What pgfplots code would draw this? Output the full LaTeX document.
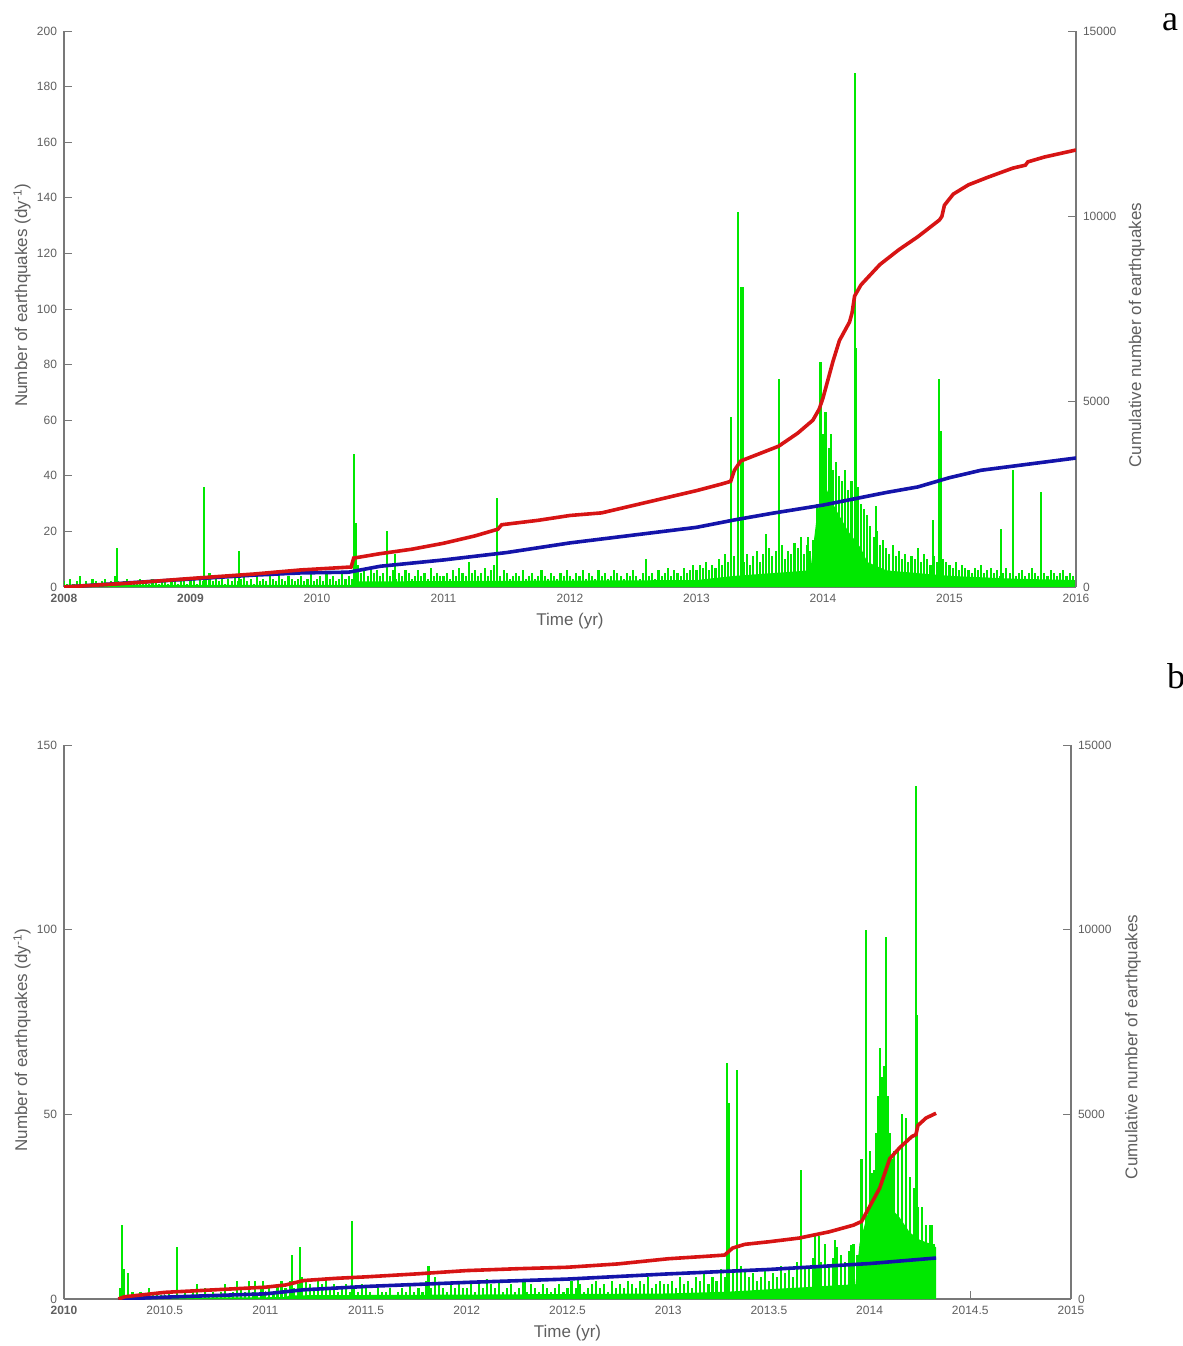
\documentclass[border=0pt]{standalone}
\usepackage{fontspec}
\setmainfont{Liberation Sans}
\newfontfamily\seriffont{Liberation Serif}
\usepackage{pgfplots}
\pgfplotsset{compat=1.18}
\definecolor{txt}{RGB}{95,95,95}
\definecolor{axgray}{RGB}{120,120,120}
\definecolor{eqgreen}{RGB}{0,232,0}
\definecolor{eqred}{RGB}{215,20,20}
\definecolor{eqblue}{RGB}{20,20,170}
\pgfplotsset{
  base/.style={scale only axis,
    axis line style={axgray, line width=0.7pt},
    tick style={axgray, line width=0.5pt},
    major tick length=4pt, tick align=inside,
    every tick label/.append style={font=\fontsize{6}{7}\selectfont, text=txt},
    label style={font=\fontsize{8.5}{9}\selectfont, text=txt},
    /pgf/number format/assume math mode=true,
    scaled y ticks=false},
  comb/.style={ycomb, eqgreen, line width=1.05pt},
}
\begin{document}
\begin{tikzpicture}
\useasboundingbox (0,0) rectangle (591.5pt,-673pt);
% ---------------- panel a ----------------
\begin{axis}[base, at={(32pt,-293.5pt)}, anchor=south west, width=506pt, height=278pt,
  xmin=2008, xmax=2016, ymin=0, ymax=200,
  axis x line*=bottom, axis y line*=left,
  xtick={2008,2009,2010,2011,2012,2013,2014,2015,2016},
  xticklabels={\textbf{2008},\textbf{2009},2010,2011,2012,2013,2014,2015,2016},
  ytick={0,20,40,60,80,100,120,140,160,180,200},
  xlabel={Time (yr)}, ylabel={Number of earthquakes (dy\textsuperscript{-1})},
  xlabel style={at={(axis description cs:0.5,-0.061)}, anchor=center},
  ylabel style={at={(axis description cs:-0.0415,0.525)}, anchor=center}]
\addplot[draw=none, fill=eqgreen] coordinates {(2008,0)(2008,0.8)(2010.27,0.8)(2010.3,2)(2013,2.5)(2013.3,4)(2013.9,6)(2013.95,25)(2014.0,38)(2014.05,33)(2014.1,28)(2014.15,24)(2014.2,20)(2014.3,14)(2014.35,9)(2014.5,6)(2015,4)(2015.5,3)(2016,2.5)(2016,0)};
\addplot[comb] coordinates {
(2008.000,2)(2008.025,1)(2008.050,3)(2008.075,1)(2008.100,2)(2008.125,4)(2008.150,1)(2008.175,2)(2008.200,1)(2008.225,3)(2008.250,2)(2008.275,1)(2008.300,2)(2008.325,3)(2008.350,1)(2008.375,2)(2008.400,4)(2008.425,2)(2008.450,1)(2008.475,2)(2008.500,3)(2008.525,1)(2008.550,2)(2008.575,1)(2008.600,3)(2008.625,2)(2008.650,2)(2008.675,1)(2008.700,3)(2008.725,2)(2008.750,1)(2008.775,2)(2008.800,3)(2008.825,1)(2008.850,2)(2008.875,2)(2008.900,1)(2008.925,3)(2008.950,2)(2008.975,1)
(2009.000,2)(2009.025,3)(2009.050,1)(2009.075,4)(2009.100,2)(2009.125,3)(2009.150,5)(2009.175,2)(2009.200,3)(2009.225,2)(2009.250,4)(2009.275,1)(2009.300,3)(2009.325,2)(2009.350,4)(2009.375,2)(2009.400,3)(2009.425,5)(2009.450,2)(2009.475,3)(2009.500,1)(2009.525,4)(2009.550,2)(2009.575,3)(2009.600,2)(2009.625,4)(2009.650,3)(2009.675,2)(2009.700,5)(2009.725,3)(2009.750,2)(2009.775,4)(2009.800,3)(2009.825,2)(2009.850,3)(2009.875,4)(2009.900,2)(2009.925,3)(2009.950,5)(2009.975,2)
(2010.000,3)(2010.025,4)(2010.050,2)(2010.075,5)(2010.100,3)(2010.125,4)(2010.150,2)(2010.175,3)(2010.200,5)(2010.225,3)(2010.250,4)(2010.275,3)(2010.300,7)(2010.325,8)(2010.350,5)(2010.375,6)(2010.400,4)(2010.425,7)(2010.450,5)(2010.475,6)(2010.500,4)(2010.525,5)(2010.550,7)(2010.575,4)(2010.600,6)(2010.625,3)(2010.650,5)(2010.675,4)(2010.700,6)(2010.725,5)(2010.750,3)(2010.775,4)(2010.800,6)(2010.825,4)(2010.850,5)(2010.875,3)(2010.900,7)(2010.925,4)(2010.950,5)(2010.975,4)
(2011.000,4)(2011.025,5)(2011.050,3)(2011.075,6)(2011.100,4)(2011.125,7)(2011.150,5)(2011.175,4)(2011.200,8)(2011.225,5)(2011.250,6)(2011.275,4)(2011.300,5)(2011.325,7)(2011.350,4)(2011.375,6)(2011.400,8)(2011.425,5)(2011.450,4)(2011.475,6)(2011.500,5)(2011.525,3)(2011.550,4)(2011.575,5)(2011.600,4)(2011.625,6)(2011.650,3)(2011.675,4)(2011.700,5)(2011.725,3)(2011.750,4)(2011.775,6)(2011.800,4)(2011.825,3)(2011.850,5)(2011.875,4)(2011.900,3)(2011.925,5)(2011.950,4)(2011.975,6)
(2012.000,4)(2012.025,3)(2012.050,5)(2012.075,4)(2012.100,6)(2012.125,3)(2012.150,5)(2012.175,4)(2012.200,3)(2012.225,6)(2012.250,4)(2012.275,5)(2012.300,3)(2012.325,4)(2012.350,6)(2012.375,5)(2012.400,4)(2012.425,3)(2012.450,5)(2012.475,4)(2012.500,6)(2012.525,4)(2012.550,3)(2012.575,5)(2012.600,7)(2012.625,4)(2012.650,5)(2012.675,3)(2012.700,6)(2012.725,4)(2012.750,5)(2012.775,7)(2012.800,4)(2012.825,6)(2012.850,5)(2012.875,4)(2012.900,7)(2012.925,5)(2012.950,6)(2012.975,8)
(2013.000,6)(2013.025,8)(2013.050,7)(2013.075,9)(2013.100,6)(2013.125,8)(2013.150,7)(2013.175,10)(2013.200,8)(2013.225,12)(2013.250,9)(2013.275,14)(2013.300,11)(2013.325,8)(2013.350,10)(2013.375,9)(2013.400,12)(2013.425,8)(2013.450,11)(2013.475,13)(2013.500,9)(2013.525,12)(2013.550,10)(2013.575,14)(2013.600,11)(2013.625,13)(2013.650,12)(2013.675,15)(2013.700,10)(2013.725,13)(2013.750,12)(2013.775,16)(2013.800,14)(2013.825,18)(2013.850,12)(2013.875,15)(2013.900,13)(2013.925,17)(2013.950,30)(2013.975,45)
(2014.000,55)(2014.025,48)(2014.050,50)(2014.075,42)(2014.100,45)(2014.125,40)(2014.150,38)(2014.175,42)(2014.200,35)(2014.225,38)(2014.250,32)(2014.275,36)(2014.300,30)(2014.325,28)(2014.350,25)(2014.375,22)(2014.400,18)(2014.425,20)(2014.450,15)(2014.475,17)(2014.500,14)(2014.525,12)(2014.550,15)(2014.575,11)(2014.600,13)(2014.625,10)(2014.650,12)(2014.675,9)(2014.700,11)(2014.725,10)(2014.750,14)(2014.775,9)(2014.800,12)(2014.825,10)(2014.850,8)(2014.875,11)(2014.900,9)(2014.925,12)(2014.950,10)(2014.975,9)
(2015.000,8)(2015.025,7)(2015.050,9)(2015.075,6)(2015.100,8)(2015.125,7)(2015.150,6)(2015.175,5)(2015.200,7)(2015.225,6)(2015.250,8)(2015.275,5)(2015.300,6)(2015.325,7)(2015.350,5)(2015.375,6)(2015.400,4)(2015.425,5)(2015.450,7)(2015.475,5)(2015.500,6)(2015.525,4)(2015.550,5)(2015.575,6)(2015.600,4)(2015.625,5)(2015.650,7)(2015.675,5)(2015.700,4)(2015.725,6)(2015.750,5)(2015.775,4)(2015.800,6)(2015.825,5)(2015.850,4)(2015.875,5)(2015.900,6)(2015.925,4)(2015.950,5)(2015.975,4)
};
\addplot[comb] coordinates {
(2008.42,14)(2009.11,36)(2009.38,13)(2010.29,48)(2010.31,23)(2010.55,20)(2010.62,12)(2011.20,9)(2011.42,32)(2012.60,10)(2013.27,61)(2013.33,135)(2013.35,108)(2013.37,108)(2013.55,19)(2013.65,75)(2013.88,18)(2013.98,81)(2014.02,63)(2014.06,55)(2014.10,42)(2014.25,185)(2014.26,86)(2014.35,26)(2014.42,29)(2014.87,24)(2014.92,75)(2014.93,56)(2015.41,21)(2015.50,42)(2015.72,34)};
\end{axis}
\begin{axis}[base, at={(32pt,-293.5pt)}, anchor=south west, width=506pt, height=278pt,
  xmin=2008, xmax=2016, ymin=0, ymax=15000,
  axis x line=none, axis y line*=right,
  ytick={0,5000,10000,15000}, yticklabels={0,5000,10000,15000},
  ylabel={Cumulative number of earthquakes},
  ylabel style={at={(axis description cs:1.060,0.453)}, anchor=center}]
\addplot[eqblue, line width=1.8pt] coordinates {(2008.00,0)(2008.50,110)(2009.00,215)(2009.50,320)(2009.87,380)(2010.25,400)(2010.50,560)(2011.00,730)(2011.50,930)(2012.00,1190)(2012.50,1400)(2013.00,1610)(2013.30,1810)(2013.60,1990)(2014.00,2210)(2014.50,2550)(2014.75,2700)(2015.00,2950)(2015.25,3150)(2015.50,3260)(2016.00,3480)};
\addplot[eqred, line width=1.8pt] coordinates {(2008.00,0)(2008.50,100)(2009.00,230)(2009.50,350)(2009.87,460)(2010.27,540)(2010.29,780)(2010.50,900)(2010.75,1020)(2011.00,1180)(2011.25,1380)(2011.43,1560)(2011.46,1680)(2011.75,1800)(2012.00,1930)(2012.25,2000)(2012.50,2200)(2012.75,2400)(2013.00,2600)(2013.20,2780)(2013.27,2850)(2013.30,3150)(2013.35,3400)(2013.50,3600)(2013.65,3800)(2013.80,4150)(2013.92,4500)(2013.97,4800)(2014.00,5100)(2014.08,6100)(2014.13,6650)(2014.21,7150)(2014.23,7400)(2014.25,7850)(2014.30,8150)(2014.45,8700)(2014.60,9100)(2014.75,9450)(2014.92,9900)(2014.94,10000)(2014.96,10300)(2015.03,10600)(2015.15,10850)(2015.30,11050)(2015.50,11300)(2015.60,11380)(2015.62,11470)(2015.75,11600)(2016.00,11790)};
\end{axis}
% ---------------- panel b ----------------
\begin{axis}[base, at={(32pt,-649.5pt)}, anchor=south west, width=503.5pt, height=277pt,
  xmin=2010, xmax=2015, ymin=0, ymax=150,
  axis x line*=bottom, axis y line*=left,
  xtick={2010,2010.5,2011,2011.5,2012,2012.5,2013,2013.5,2014,2014.5,2015},
  xticklabels={\textbf{2010},2010.5,2011,2011.5,2012,2012.5,2013,2013.5,2014,2014.5,2015},
  ytick={0,50,100,150},
  xlabel={Time (yr)}, ylabel={Number of earthquakes (dy\textsuperscript{-1})},
  xlabel style={at={(axis description cs:0.5,-0.061)}, anchor=center},
  ylabel style={at={(axis description cs:-0.0417,0.4675)}, anchor=center}]
\addplot[draw=none, fill=eqgreen] coordinates {(2010.27,0)(2010.27,0.3)(2011.1,0.5)(2011.12,1)(2012,1.2)(2013,1.5)(2013.3,2)(2013.93,4)(2013.95,15)(2014.0,25)(2014.05,30)(2014.1,25)(2014.15,22)(2014.2,18)(2014.25,16)(2014.3,15)(2014.33,14)(2014.33,0)};
\addplot[comb] coordinates {
(2010.28,3)(2010.30,8)(2010.32,6)(2010.34,2)(2010.36,1)(2010.38,2)(2010.40,1)(2010.42,3)(2010.44,1)(2010.46,2)(2010.48,1)(2010.50,1)(2010.52,2)(2010.54,1)(2010.56,3)(2010.58,1)(2010.60,2)(2010.62,1)(2010.64,2)(2010.66,1)(2010.68,1)(2010.70,3)(2010.72,1)(2010.74,2)(2010.76,1)(2010.78,2)(2010.80,4)(2010.82,1)(2010.84,2)(2010.86,1)(2010.88,3)(2010.90,2)(2010.92,5)(2010.94,2)(2010.96,1)(2010.98,3)
(2011.00,2)(2011.02,3)(2011.04,2)(2011.06,4)(2011.08,2)(2011.10,3)(2011.12,5)(2011.14,3)(2011.16,4)(2011.18,6)(2011.20,5)(2011.22,4)(2011.24,3)(2011.26,5)(2011.28,4)(2011.30,6)(2011.32,3)(2011.34,4)(2011.36,2)(2011.38,3)(2011.40,4)(2011.42,2)(2011.44,3)(2011.46,2)(2011.48,4)(2011.50,3)(2011.52,2)(2011.54,1)(2011.56,3)(2011.58,2)(2011.60,2)(2011.62,3)(2011.64,1)(2011.66,2)(2011.68,3)(2011.70,2)(2011.72,4)(2011.74,2)(2011.76,3)(2011.78,2)(2011.80,5)(2011.82,3)(2011.84,6)(2011.86,4)(2011.88,3)(2011.90,2)(2011.92,4)(2011.94,3)(2011.96,5)(2011.98,3)
(2012.00,3)(2012.02,4)(2012.04,2)(2012.06,5)(2012.08,3)(2012.10,2)(2012.12,4)(2012.14,3)(2012.16,5)(2012.18,2)(2012.20,3)(2012.22,4)(2012.24,2)(2012.26,3)(2012.28,5)(2012.30,2)(2012.32,4)(2012.34,3)(2012.36,2)(2012.38,4)(2012.40,3)(2012.42,2)(2012.44,3)(2012.46,4)(2012.48,2)(2012.50,3)(2012.52,5)(2012.54,3)(2012.56,4)(2012.58,2)(2012.60,3)(2012.62,4)(2012.64,5)(2012.66,3)(2012.68,4)(2012.70,2)(2012.72,5)(2012.74,3)(2012.76,4)(2012.78,3)(2012.80,5)(2012.82,4)(2012.84,3)(2012.86,5)(2012.88,4)(2012.90,6)(2012.92,3)(2012.94,4)(2012.96,5)(2012.98,4)
(2013.00,4)(2013.02,5)(2013.04,3)(2013.06,6)(2013.08,4)(2013.10,5)(2013.12,3)(2013.14,6)(2013.16,5)(2013.18,7)(2013.20,4)(2013.22,6)(2013.24,5)(2013.26,8)(2013.28,6)(2013.30,10)(2013.32,8)(2013.34,7)(2013.36,9)(2013.38,8)(2013.40,6)(2013.42,7)(2013.44,5)(2013.46,6)(2013.48,8)(2013.50,5)(2013.52,7)(2013.54,6)(2013.56,9)(2013.58,7)(2013.60,8)(2013.62,6)(2013.64,10)(2013.66,7)(2013.68,9)(2013.70,8)(2013.72,11)(2013.74,9)(2013.76,10)(2013.78,12)(2013.80,9)(2013.82,11)(2013.84,14)(2013.86,12)(2013.88,10)(2013.90,13)(2013.92,15)(2013.94,12)(2013.96,25)(2013.98,30)
(2014.00,40)(2014.02,35)(2014.04,45)(2014.06,38)(2014.08,50)(2014.10,42)(2014.12,36)(2014.14,40)(2014.16,32)(2014.18,35)(2014.20,30)(2014.22,28)(2014.24,25)(2014.26,22)(2014.28,20)(2014.30,18)(2014.32,15)
};
\addplot[comb] coordinates {
(2010.29,20)(2010.30,8)(2010.32,7)(2010.56,14)(2010.66,4)(2010.86,5)(2010.95,5)(2010.99,5)(2011.08,5)(2011.13,12)(2011.17,14)(2011.43,21)(2011.81,9)(2012.10,5.5)(2012.29,4.5)(2012.55,5.4)(2013.29,64)(2013.30,53)(2013.34,62)(2013.66,35)(2013.73,17)(2013.75,17)(2013.78,15)(2013.83,16)(2013.91,14.5)(2013.96,38)(2013.98,100)(2014.01,34)(2014.03,45)(2014.04,55)(2014.05,68)(2014.06,60)(2014.07,63)(2014.08,98)(2014.09,55)(2014.10,45)(2014.11,38)(2014.12,40)(2014.14,35)(2014.16,50)(2014.18,49)(2014.20,33)(2014.22,30)(2014.23,139)(2014.235,77)(2014.26,25)(2014.28,20)(2014.30,20)(2014.31,20)};
\end{axis}
\begin{axis}[base, at={(32pt,-649.5pt)}, anchor=south west, width=503.5pt, height=277pt,
  xmin=2010, xmax=2015, ymin=0, ymax=15000,
  axis x line=none, axis y line*=right,
  ytick={0,5000,10000,15000}, yticklabels={0,5000,10000,15000},
  ylabel={Cumulative number of earthquakes},
  ylabel style={at={(axis description cs:1.0616,0.455)}, anchor=center}]
\addplot[eqblue, line width=1.8pt] coordinates {(2010.27,0)(2010.50,50)(2011.00,140)(2011.19,250)(2011.50,340)(2012.00,450)(2012.50,540)(2013.00,680)(2013.50,800)(2014.00,960)(2014.33,1110)};
\addplot[eqred, line width=1.8pt] coordinates {(2010.27,0)(2010.30,60)(2010.50,180)(2010.75,250)(2011.00,320)(2011.10,380)(2011.19,500)(2011.35,560)(2011.50,600)(2011.75,680)(2012.00,770)(2012.25,820)(2012.50,860)(2012.75,950)(2013.00,1090)(2013.20,1160)(2013.28,1190)(2013.32,1380)(2013.38,1480)(2013.50,1550)(2013.65,1650)(2013.80,1820)(2013.92,2000)(2013.96,2100)(2014.00,2500)(2014.05,3000)(2014.10,3800)(2014.15,4100)(2014.21,4400)(2014.23,4450)(2014.24,4700)(2014.28,4900)(2014.33,5030)};
\end{axis}
\node[font=\seriffont\fontsize{18}{20}\selectfont] at (585pt,-11pt) {a};
\node[font=\seriffont\fontsize{18}{20}\selectfont] at (588pt,-338pt) {b};
\end{tikzpicture}
\end{document}
